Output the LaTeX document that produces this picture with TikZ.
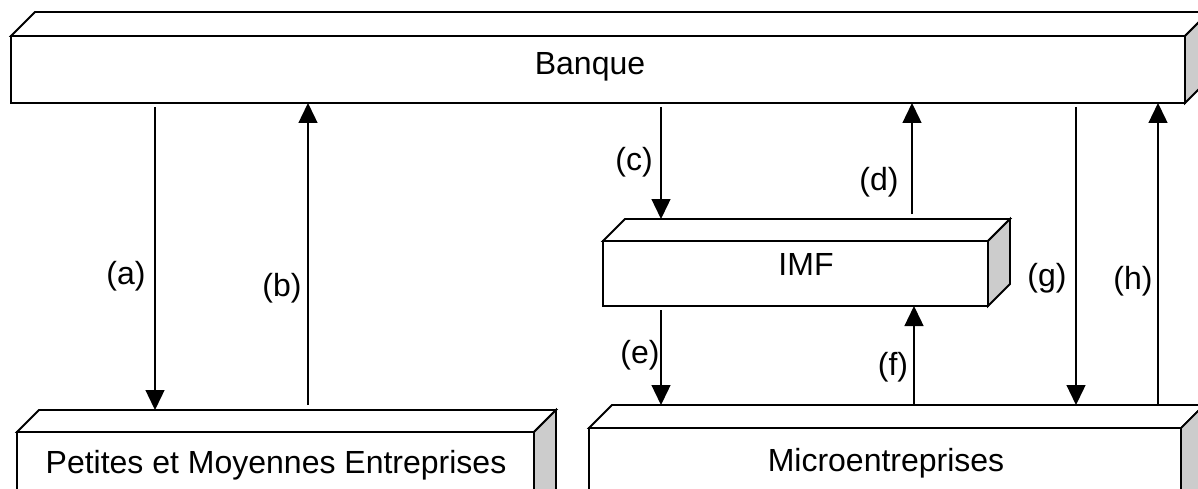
\documentclass[tikz,border=0pt]{standalone}
\usepackage{fontspec}
\setmainfont{Liberation Sans}
\usetikzlibrary{arrows.meta,calc}

% top and right faces of a block whose front face is node #1, depth #2
\newcommand\solidfaces[2]{%
  \draw[topface] (#1.north west) -- ++(#2,-#2) -- ($(#1.north east)+(#2,-#2)$) -- (#1.north east) -- cycle;
  \draw[sideface] (#1.north east) -- ++(#2,-#2) -- ($(#1.south east)+(#2,-#2)$) -- (#1.south east) -- cycle;}

\begin{document}
\begin{tikzpicture}[x=1pt,y=-1pt,
  front/.style={draw, line width=1.8pt, fill=white, inner sep=0pt, outer sep=0pt, rectangle},
  topface/.style={draw, line width=1.8pt, fill=white},
  sideface/.style={draw, line width=1.8pt, fill=gray!40},
  txt/.style={font=\fontsize{32}{38}\selectfont, inner sep=0pt, anchor=base},
  lbl/.style={font=\fontsize{32}{38}\selectfont, inner sep=0pt},
  flow/.style={line width=1.4pt, -{Triangle[length=20pt,width=19pt]}},
]
\useasboundingbox (0,0) rectangle (1198,489);
\clip (0,0) rectangle (1198,489);

% blocks
\node[front, minimum width=1174pt, minimum height=67pt] (banque) at (598,69.5) {};
\solidfaces{banque}{24}
\node[front, minimum width=385pt, minimum height=65pt] (imf) at (795.5,273.5) {};
\solidfaces{imf}{22}
\node[front, minimum width=517pt, minimum height=90pt] (pme) at (275.5,477) {};
\solidfaces{pme}{22}
\node[front, minimum width=592pt, minimum height=92pt] (micro) at (885,474) {};
\solidfaces{micro}{23}

% block titles
\node[txt] (banque-t) at (590,75) {Banque};
\node[txt] (imf-t) at (806,275) {IMF};
\node[txt] (pme-t) at (276,473) {Petites et Moyennes Entreprises};
\node[txt] (micro-t) at (886,471) {Microentreprises};

% back edges of the top faces
\coordinate (imf-back) at ($(imf.north)+(22,-22)$);
\coordinate (pme-back) at ($(pme.north)+(22,-22)$);
\coordinate (micro-back) at ($(micro.north)+(23,-23)$);

% arrow columns
\coordinate (xa) at (155,0);
\coordinate (xb) at (308,0);
\coordinate (xc) at (661,0);
\coordinate (xd) at (912,0);
\coordinate (xe) at (661,0);
\coordinate (xf) at (914,0);
\coordinate (xg) at (1076,0);
\coordinate (xh) at (1158,0);

% flows
\draw[flow, shorten <=4pt] (banque.south -| xa) -- (pme-back -| xa);
\draw[flow, shorten <=5pt] (pme-back -| xb) -- (banque.south -| xb);
\draw[flow, shorten <=4pt] (banque.south -| xc) -- (imf-back -| xc);
\draw[flow, shorten <=5pt] (imf-back -| xd) -- (banque.south -| xd);
\draw[flow, shorten <=4pt] (imf.south -| xe) -- (micro-back -| xe);
\draw[flow, shorten <=1pt] (micro-back -| xf) -- (imf.south -| xf);
\draw[flow, shorten <=4pt] (banque.south -| xg) -- (micro-back -| xg);
\draw[flow, shorten <=1pt] (micro-back -| xh) -- (banque.south -| xh);

% flow labels
\node[lbl] (la) at (126,276) {(a)};
\node[lbl] (lb) at (282,288) {(b)};
\node[lbl] (lc) at (634,162) {(c)};
\node[lbl] (ld) at (879,182) {(d)};
\node[lbl] (le) at (640,355) {(e)};
\node[lbl] (lf) at (893,367) {(f)};
\node[lbl] (lg) at (1047,278) {(g)};
\node[lbl] (lh) at (1133,281) {(h)};
\end{tikzpicture}
\end{document}
